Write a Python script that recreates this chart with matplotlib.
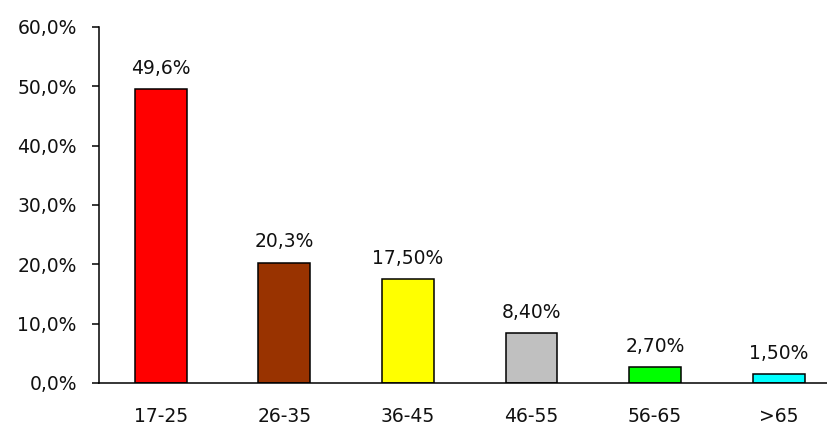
import matplotlib.pyplot as plt
from matplotlib.ticker import FuncFormatter

plt.rcParams['font.family'] = ['DejaVu Sans']

# Age groups and their share of the total
age_groups = ['17-25', '26-35', '36-45', '46-55', '56-65', '>65']
shares = [49.6, 20.3, 17.5, 8.4, 2.7, 1.5]
label_decimals = [1, 1, 2, 2, 2, 2]
bar_colors = ['#FF0000', '#993300', '#FFFF00', '#C0C0C0', '#00FF00', '#00FFFF']


def pct(v, dec):
    return f"{v:.{dec}f}%".replace('.', ',')


fig = plt.figure(figsize=(8.28, 4.28), dpi=100)
ax = fig.add_axes([99 / 828, 45 / 428, 1 - 99 / 828, 356 / 428])

x = range(len(age_groups))
bars = ax.bar(x, shares, width=0.42, color=bar_colors,
              edgecolor='black', linewidth=1.1)

for b, v, d in zip(bars, shares, label_decimals):
    ax.annotate(pct(v, d), (b.get_x() + b.get_width() / 2, v),
                xytext=(0, 8), textcoords='offset points',
                ha='center', va='bottom', fontsize=13.5, color='#111111')

ax.set_xlim(-0.5, 5.4)
ax.set_ylim(0, 60)
ax.set_yticks(range(0, 61, 10))
ax.yaxis.set_major_formatter(FuncFormatter(lambda v, _: pct(v, 1)))
ax.set_xticks(list(x))
ax.set_xticklabels(age_groups)

ax.spines['top'].set_visible(False)
ax.spines['right'].set_visible(False)
ax.spines['left'].set_linewidth(1.1)
ax.spines['bottom'].set_linewidth(1.1)
ax.tick_params(axis='y', direction='out', length=5, width=1.1, pad=11,
               labelsize=13.5, labelcolor='#111111')
ax.tick_params(axis='x', length=0, pad=17, labelsize=13.5, labelcolor='#111111')

fig.savefig('out.png', dpi=100)
